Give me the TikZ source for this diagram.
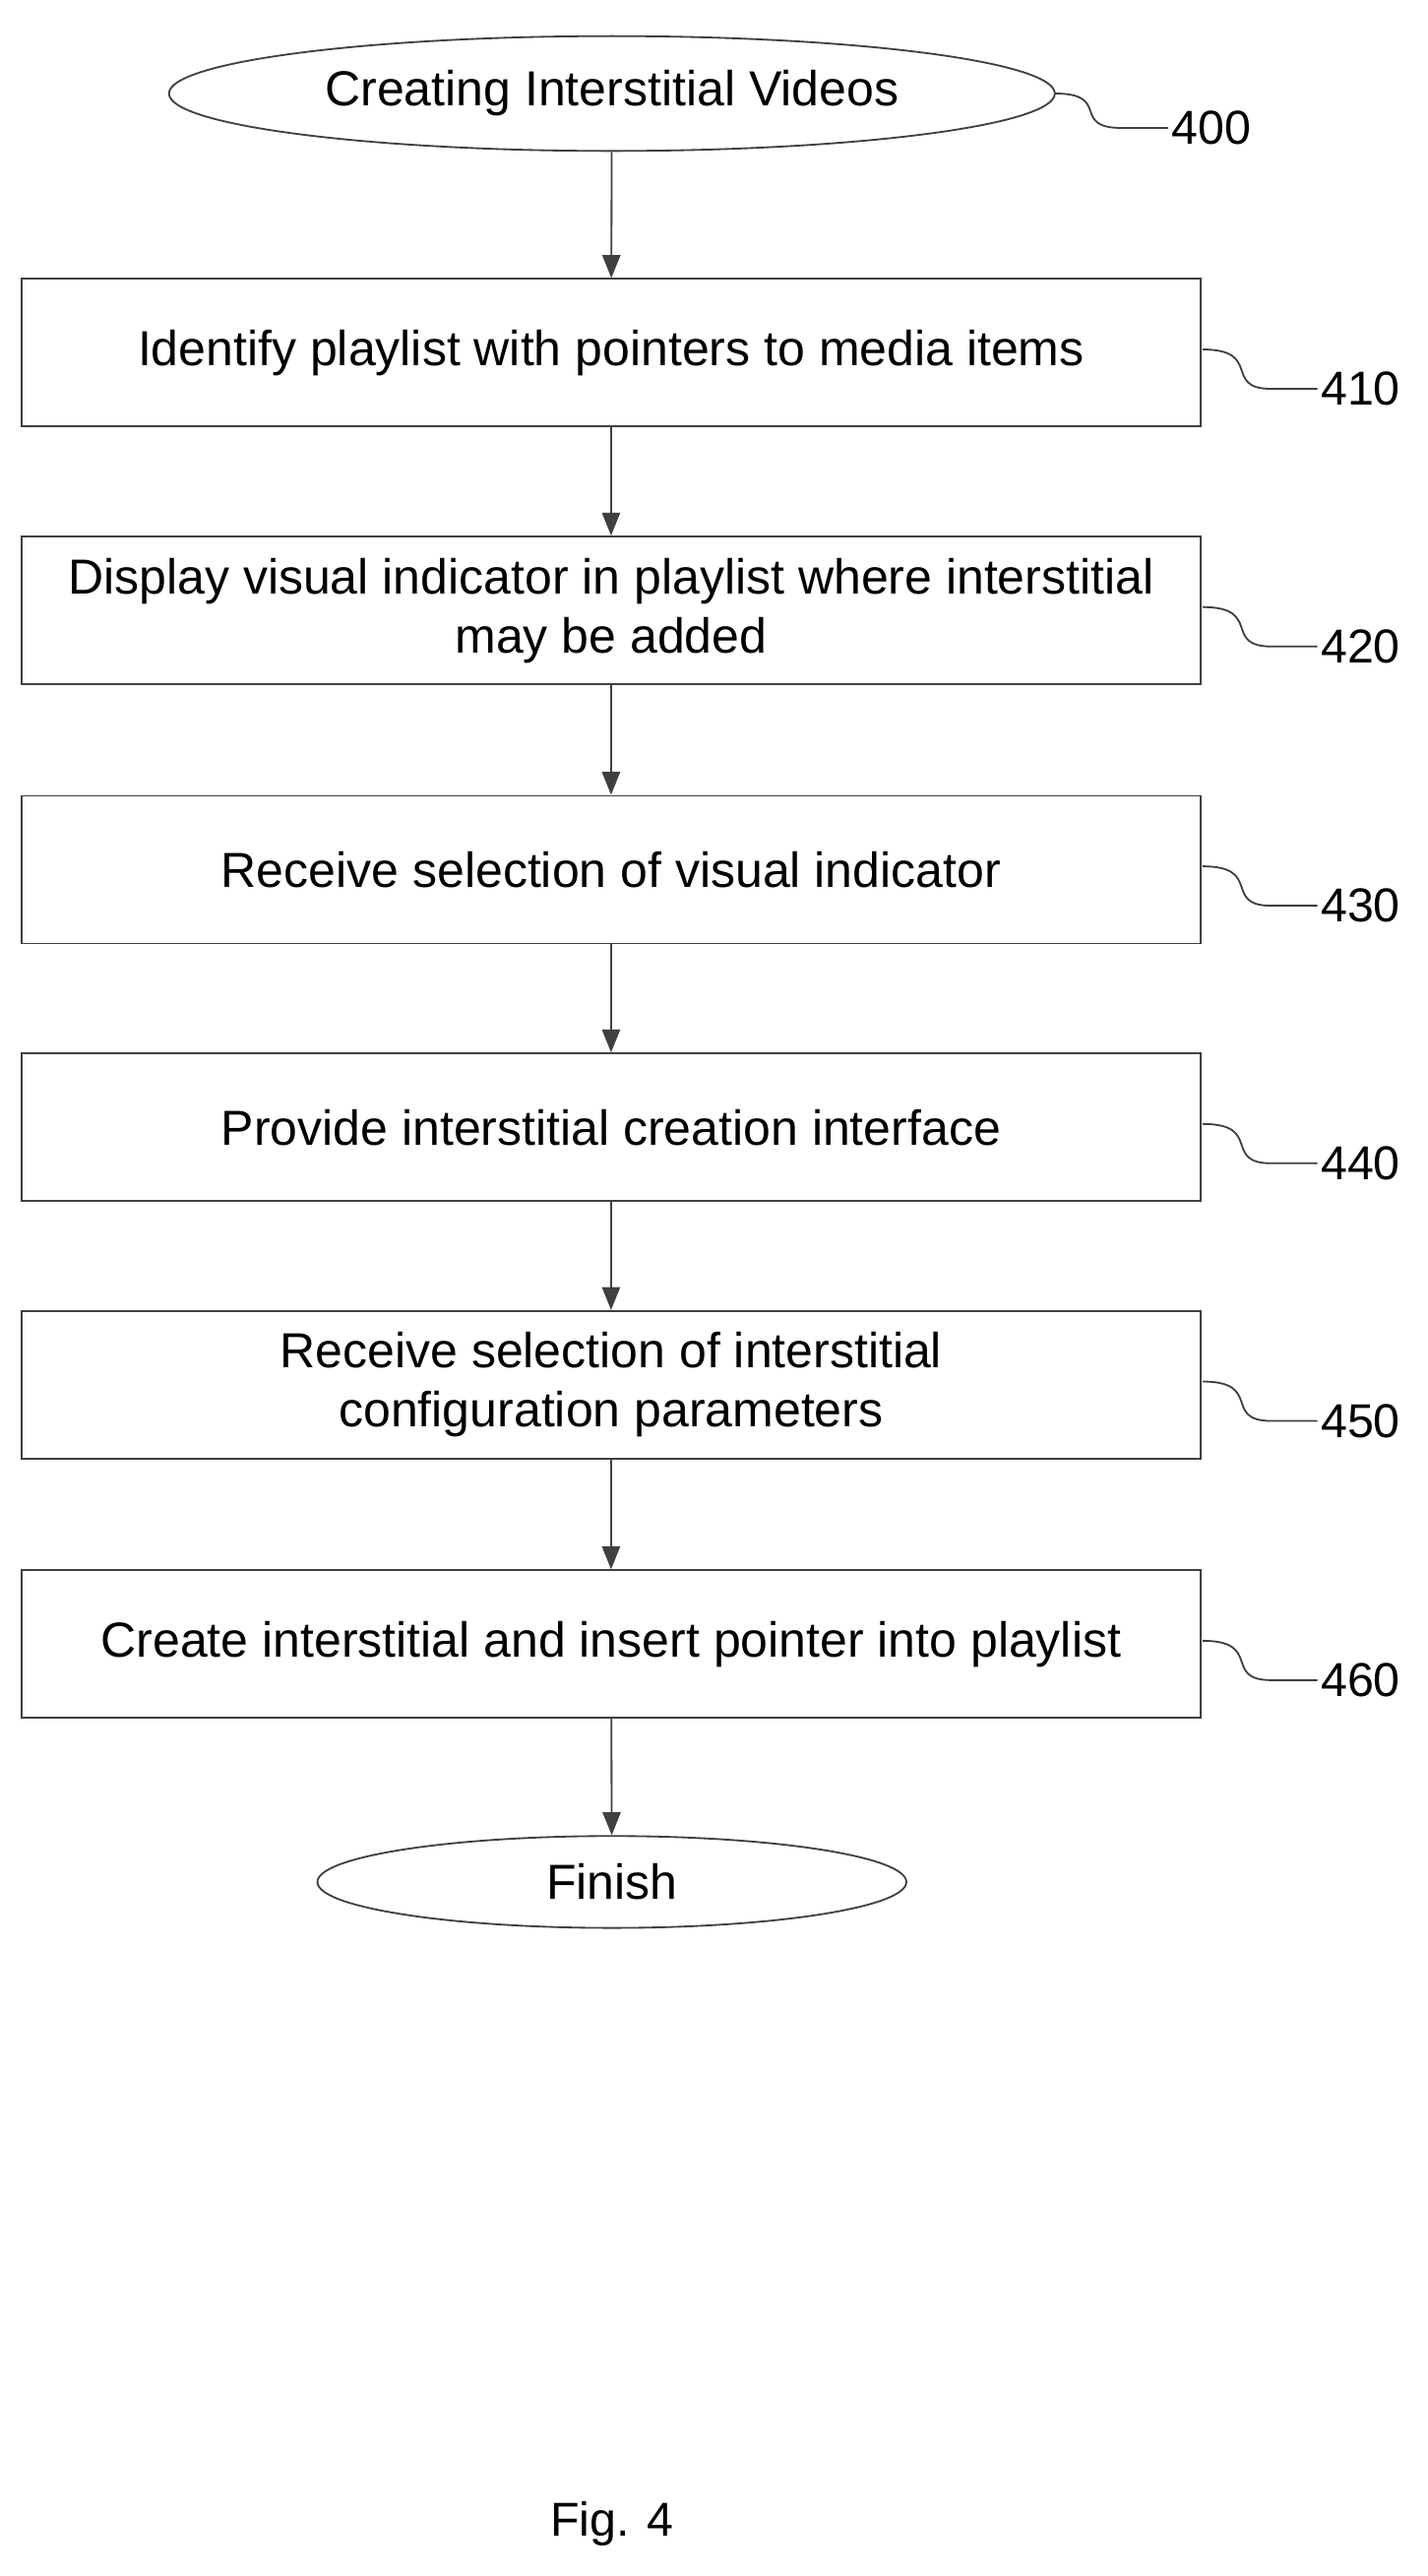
\documentclass[tikz,border=0pt]{standalone}
\usepackage{fontspec}
\setmainfont{Liberation Sans}
\usetikzlibrary{shapes.geometric,arrows.meta}
\begin{document}
\begin{tikzpicture}[x=1pt,y=-1pt,
  ln/.style={draw=black!75,line width=1.1pt},
  box/.style={ln,rectangle,minimum width=719pt,minimum height=90pt,align=center,font=\fontsize{30}{36}\selectfont,inner sep=0pt},
  ell/.style={ln,ellipse,inner sep=0pt,font=\fontsize{30}{34}\selectfont},
  arr/.style={ln,-{Triangle[length=14pt,width=11pt]}},
  lab/.style={font=\fontsize{29}{32}\selectfont,anchor=west,inner sep=2pt},
  sq/.style={ln}]
\useasboundingbox (0,0) rectangle (870,1570);
\node[ell,minimum width=540pt,minimum height=70pt] (s) at (373,57) {Creating Interstitial Videos};
\node[box] (b1) at (372.5,215) {Identify playlist with pointers to media items};
\node[box] (b2) at (372.5,372) {Display visual indicator in playlist where interstitial\\may be added};
\node[box] (b3) at (372.5,530) {Receive selection of visual indicator};
\node[box] (b4) at (372.5,687) {Provide interstitial creation interface};
\node[box] (b5) at (372.5,844) {Receive selection of interstitial\\configuration parameters};
\node[box] (b6) at (372.5,1002) {Create interstitial and insert pointer into playlist};
\node[ell,minimum width=359pt,minimum height=56pt] (f) at (373,1147) {Finish};
\node[font=\fontsize{29}{32}\selectfont] (fig) at (373,1538) {Fig. 4};
\foreach \a/\b in {s/b1,b1/b2,b2/b3,b3/b4,b4/b5,b5/b6,b6/f} \draw[arr] (\a) -- (\b);
\coordinate (q0) at (643,57);
\draw[sq] (q0) .. controls (678,57) and (652,78) .. (684,78) -- (712,78);
\node[lab] (l0) at (712,78) {400};
\foreach \n/\y/\t in {b1/213/410,b2/370/420,b3/528/430,b4/685/440,b5/842/450,b6/1000/460}{
  \coordinate (c\t) at (733,\y);
  \draw[sq] (c\t) .. controls (770,\y) and (745,\y+24) .. (775,\y+24) -- (803,\y+24);
  \node[lab] (l\t) at (803,\y+24) {\t};
}
\end{tikzpicture}
\end{document}
